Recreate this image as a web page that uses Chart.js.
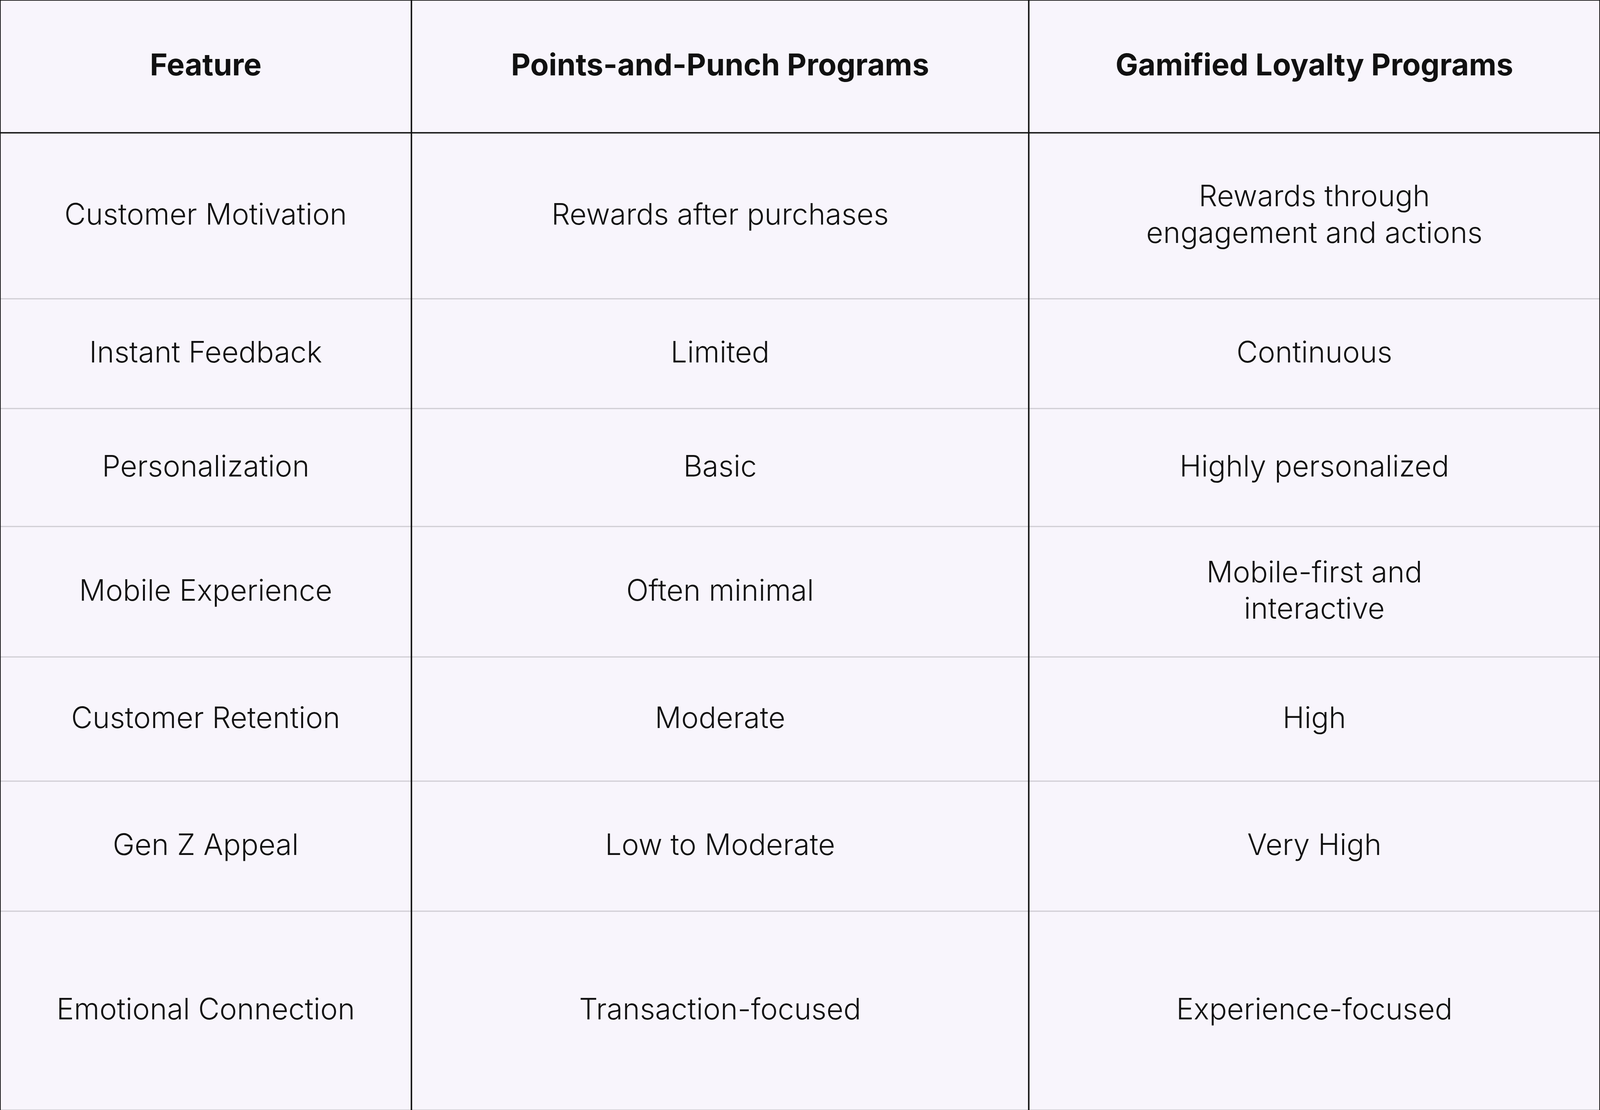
<!DOCTYPE html>
<html>
<head>
<meta charset="utf-8">
<script src="https://cdn.jsdelivr.net/npm/chart.js@4"></script>
<style>
  html, body { margin: 0; padding: 0; background: #f8f5fc; overflow: hidden; }
  #wrap { width: 100vw; height: 100vh; position: relative; }
</style>
</head>
<body>
<div id="wrap"><canvas id="table"></canvas></div>
<script>
// table content
const headers = ["Feature", "Points-and-Punch Programs", "Gamified Loyalty Programs"];
const features = ["Customer Motivation", "Instant Feedback", "Personalization", "Mobile Experience",
  "Customer Retention", "Gen Z Appeal", "Emotional Connection"];
const pointsPunch = ["Rewards after purchases", "Limited", "Basic", "Often minimal",
  "Moderate", "Low to Moderate", "Transaction-focused"];
const gamified = ["Rewards through\nengagement and actions", "Continuous", "Highly personalized",
  "Mobile-first and\ninteractive", "High", "Very High", "Experience-focused"];

// grid layout (in scale units)
const colEdges = [0, 1125, 2813, 4375];
const rowEdges = [0, 340, 765, 1046, 1348, 1682, 2000, 2333, 2842];

const tablePlugin = {
  id: 'tablePlugin',
  afterDraw(chart) {
    const ctx = chart.ctx;
    const xs = chart.scales.x, ys = chart.scales.y;
    const X = v => xs.getPixelForValue(v);
    const Y = v => ys.getPixelForValue(v);
    const k = (X(4375) - X(0)) / 4375;
    ctx.save();
    ctx.fillStyle = '#f8f5fc';
    ctx.fillRect(X(0), Y(0), X(4375) - X(0), Y(2842) - Y(0));

    rowEdges.forEach((r, i) => {
      ctx.beginPath();
      ctx.strokeStyle = (i <= 1) ? '#111' : '#cfcdd3';
      ctx.lineWidth = ((i <= 1) ? 4 : 3) * k;
      ctx.moveTo(X(0), Y(r));
      ctx.lineTo(X(4375), Y(r));
      ctx.stroke();
    });
    colEdges.forEach(c => {
      ctx.beginPath();
      ctx.strokeStyle = '#111';
      ctx.lineWidth = 4 * k;
      ctx.moveTo(X(c), Y(0));
      ctx.lineTo(X(c), Y(2842));
      ctx.stroke();
    });

    ctx.textAlign = 'center';
    ctx.textBaseline = 'middle';
    ctx.fillStyle = '#111';
    const cell = (text, col, row, font) => {
      const cx = (X(colEdges[col]) + X(colEdges[col + 1])) / 2;
      const cy = (Y(rowEdges[row]) + Y(rowEdges[row + 1])) / 2;
      const lines = text.split('\n');
      const lh = 100 * k;
      ctx.font = font;
      lines.forEach((l, i) => ctx.fillText(l, cx, cy + (i - (lines.length - 1) / 2) * lh));
    };
    const hf = 'bold ' + Math.round(82 * k) + 'px Inter, "Open Sans", sans-serif';
    const bf = '300 ' + Math.round(80 * k) + 'px Inter, "Open Sans", sans-serif';
    headers.forEach((h, c) => cell(h, c, 0, hf));
    features.forEach((t, r) => cell(t, 0, r + 1, bf));
    pointsPunch.forEach((t, r) => cell(t, 1, r + 1, bf));
    gamified.forEach((t, r) => cell(t, 2, r + 1, bf));
    ctx.restore();
  }
};

new Chart(document.getElementById('table'), {
  type: 'scatter',
  data: { datasets: [{ data: [] }] },
  options: {
    responsive: true,
    maintainAspectRatio: false,
    animation: false,
    layout: { padding: 0 },
    plugins: { legend: { display: false }, tooltip: { enabled: false } },
    scales: {
      x: { type: 'linear', min: 0, max: 4375, display: false },
      y: { type: 'linear', min: 0, max: 2842, reverse: true, display: false }
    }
  },
  plugins: [tablePlugin]
});
</script>
</body>
</html>
